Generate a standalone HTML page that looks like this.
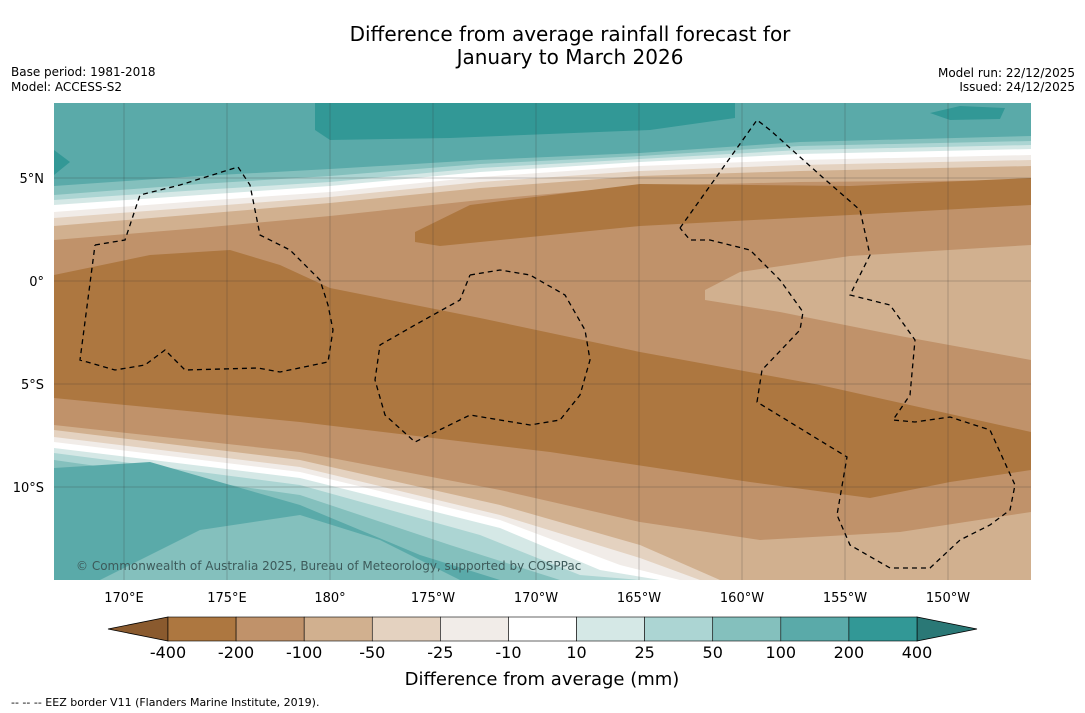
<!DOCTYPE html>
<html><head><meta charset="utf-8">
<style>
body{margin:0;background:#fff;font-family:"DejaVu Sans","Liberation Sans",sans-serif;}
#wrap{position:relative;width:1085px;height:713px;overflow:hidden;background:#fff;}
</style></head>
<body>
<div id="wrap">
<svg id="svg" width="1085" height="713" xmlns="http://www.w3.org/2000/svg" font-family="DejaVu Sans, Liberation Sans, sans-serif">
<text x="570" y="41" font-size="20" text-anchor="middle">Difference from average rainfall forecast for</text>
<text x="570" y="64" font-size="20" text-anchor="middle">January to March 2026</text>
<text x="11" y="76" font-size="12">Base period: 1981-2018</text>
<text x="11" y="91" font-size="12">Model: ACCESS-S2</text>
<text x="1075" y="77" font-size="12" text-anchor="end">Model run: 22/12/2025</text>
<text x="1075" y="91" font-size="12" text-anchor="end">Issued: 24/12/2025</text>
<defs><clipPath id="mapclip"><rect x="54" y="103" width="977" height="477"/></clipPath></defs>
<g id="map" clip-path="url(#mapclip)"></g>
<g id="axes"></g>
<g id="cbar"></g>
<text x="542" y="685" font-size="18" text-anchor="middle">Difference from average (mm)</text>
<text x="11" y="706" font-size="11">--  --  -- EEZ border V11 (Flanders Marine Institute, 2019).</text>
</svg>
</div>
<script>
const lonTicks=[170,175,180,-175,-170,-165,-160,-155,-150];
const lonLabels=["170°E","175°E","180°","175°W","170°W","165°W","160°W","155°W","150°W"];
const latTicks=[5,0,-5,-10];
const latLabels=["5°N","0°","5°S","10°S"];
const levels=["-400","-200","-100","-50","-25","-10","10","25","50","100","200","400"];
const bandColors=["#ad7740","#c0926a","#d1b08f","#e4d2c0","#f1ece8","#ffffff","#d5e8e6","#acd5d3","#84c0bd","#5aaaa9","#329896"];
const underColor="#8a5a2e", overColor="#2a7876";

const NS="http://www.w3.org/2000/svg";
const svg=document.getElementById('svg');
const map=document.getElementById('map');
const axes=document.getElementById('axes');
const cb=document.getElementById('cbar');
function xLon(l){let e=l<0?360+l:l;return 124+(e-170)*20.6;}
function yLat(v){return 281-v*20.6;}
function el(t,a,p){const e=document.createElementNS(NS,t);for(const k in a)e.setAttribute(k,a[k]);(p||svg).appendChild(e);return e;}
function poly(pts,fill,name){const e=el('polygon',{points:pts.map(p=>p.join(',')).join(' '),fill:fill},map);

return e;}
const bg=el('rect',{x:54,y:103,width:977,height:477,fill:bandColors[1]},map);


const nx=[54,200,330,480,640,800,1031];
const north=[
 [bandColors[2],[240,228,216,200,186,182,180]],
 [bandColors[3],[226,214,203,188,176,171,166]],
 [bandColors[4],[218,207,197,182,171,165,160]],
 [bandColors[5],[212,201,192,177,166,160,155]],
 [bandColors[6],[205,195,186,172,162,154,149]],
 [bandColors[7],[200,190,182,168,159,150,145]],
 [bandColors[8],[195,184,176,164,156,146,141]],
 [bandColors[9],[186,176,169,160,153,142,136]],
];
north.forEach((b,i)=>{const pts=[[54,103]];nx.forEach((x,j)=>pts.push([x,b[1][j]]));pts.push([1031,103]);poly(pts,b[0],'north-band-'+i);});
poly([[315,103],[735,103],[735,118],[650,130],[450,138],[330,140],[315,130]],bandColors[10],'north-teal-max');
poly([[930,113],[960,106],[1005,108],[1000,119],[950,120]],bandColors[10],'north-teal-patch');
poly([[54,150],[70,162],[54,175]],bandColors[10],'west-teal-patch');
poly([[415,232],[470,205],[640,184],[850,186],[1031,178],[1031,205],[850,215],[640,226],[440,246],[415,242]],bandColors[0],'north-dark-brown');
poly([[54,275],[150,255],[230,250],[280,265],[330,288],[480,318],[640,352],[820,385],[1031,432],[1031,470],[950,482],[870,498],[750,482],[550,452],[300,422],[54,398]],bandColors[0],'central-dark-brown');
poly([[705,290],[740,272],[850,256],[1031,245],[1031,360],[900,336],[780,312],[705,300]],bandColors[2],'east-light-brown');
const south=[
 [bandColors[2],[[54,425],[300,452],[500,490],[640,522],[760,540],[900,532],[1031,512]]],
 [bandColors[3],[[54,430],[300,460],[500,505],[640,545],[720,580]]],
 [bandColors[4],[[54,437],[300,467],[500,515],[640,558],[700,580]]],
 [bandColors[5],[[54,442],[300,472],[500,520],[620,565],[680,580]]],
 [bandColors[6],[[54,448],[300,478],[500,528],[600,570],[660,580]]],
 [bandColors[7],[[54,453],[300,485],[480,535],[580,575],[640,580]]],
 [bandColors[8],[[54,460],[300,495],[450,545],[560,580]]],
 [bandColors[9],[[54,468],[150,462],[300,505],[420,555],[500,580]]],
];
south.forEach((b,i)=>{const pts=b[1].slice();const last=pts[pts.length-1];pts.push([Math.max(last[0],1031),580]);pts.push([54,580]);
 if(last[0]<1031){pts.splice(pts.length-2,1,[last[0],580]);}
 poly(pts,b[0],'south-band-'+i);});
poly([[100,580],[200,530],[300,515],[380,540],[460,580]],bandColors[8],'south-light-teal');
const eez=[
[[95,245],[125,240],[140,195],[180,185],[238,167],[250,185],[260,235],[290,250],[320,280],[328,305],[333,330],[328,362],[280,372],[258,368],[185,370],[165,350],[145,365],[115,370],[80,360],[95,245]],
[[470,275],[500,270],[530,275],[565,295],[585,330],[590,360],[580,395],[560,420],[530,425],[470,415],[415,442],[385,415],[375,380],[380,345],[415,325],[460,300],[470,275]],
[[680,228],[757,120],[770,130],[820,175],[860,210],[870,255],[850,295],[890,305],[915,340],[910,395],[893,420],[915,422],[950,417],[990,430],[1015,485],[1010,510],[990,525],[960,540],[930,568],[890,568],[850,545],[837,515],[847,457],[757,402],[762,370],[800,330],[803,312],[780,280],[750,250],[710,240],[690,240],[680,228]]];
eez.forEach((p,i)=>{const e=el('polyline',{points:p.map(q=>q.join(',')).join(' '),fill:'none',stroke:'#000','stroke-width':1.3,'stroke-dasharray':'5,4'},map);

});
lonTicks.forEach((l,i)=>{const x=xLon(l);
 const g=el('line',{x1:x,x2:x,y1:103,y2:580,stroke:'#333','stroke-width':0.5,opacity:0.5},map);
 
 
 const t=el('text',{x:x,y:602,'font-size':13,'text-anchor':'middle'},axes);t.textContent=lonLabels[i];
 
 });
latTicks.forEach((v,i)=>{const y=yLat(v);
 const g=el('line',{x1:54,x2:1031,y1:y,y2:y,stroke:'#333','stroke-width':0.5,opacity:0.5},map);
 
 
 const t=el('text',{x:44,y:y+5,'font-size':13,'text-anchor':'end'},axes);t.textContent=latLabels[i];
 
 });
const cp=el('text',{x:76,y:570,'font-size':12,fill:'#3d5a5a'},map);cp.textContent="© Commonwealth of Australia 2025, Bureau of Meteorology, supported by COSPPac";


const x0=168,x1=917,yT=617,yB=641,w=(x1-x0)/bandColors.length;
const tl=el('polygon',{points:`108,629 ${x0},${yT} ${x0},${yB}`,fill:underColor,stroke:'#000','stroke-width':0.8},cb);


const tr=el('polygon',{points:`977,629 ${x1},${yT} ${x1},${yB}`,fill:overColor,stroke:'#000','stroke-width':0.8},cb);


bandColors.forEach((c,i)=>{const r=el('rect',{x:x0+i*w,y:yT,width:w,height:yB-yT,fill:c,stroke:'#000','stroke-width':0.6},cb);
 
 });
levels.forEach((l,i)=>{const t=el('text',{x:x0+i*w,y:658,'font-size':16,'text-anchor':'middle'},cb);t.textContent=l;
 
 });
</script>
</body></html>
